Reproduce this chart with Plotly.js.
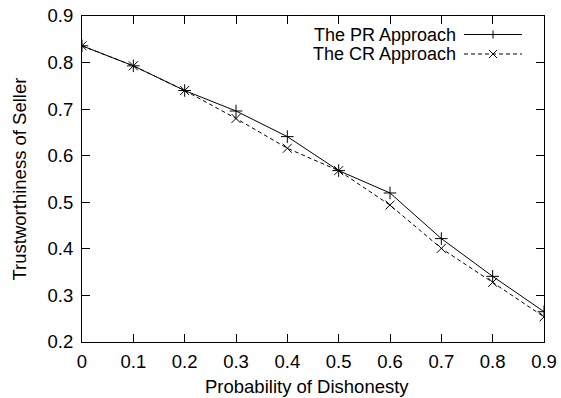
<!DOCTYPE html>
<html><head><meta charset="utf-8">
<script src="https://cdn.plot.ly/plotly-3.0.1.min.js"></script>
<style>html,body{margin:0;padding:0;background:#fff}#c{width:561px;height:398px}</style>
</head><body><div id="c"></div>
<script>
const xValues = [0, 0.1, 0.2, 0.3, 0.4, 0.5, 0.6, 0.7, 0.8, 0.9];
const prValues = [0.836, 0.793, 0.740, 0.696, 0.641, 0.568, 0.520, 0.422, 0.341, 0.265];
const crValues = [0.836, 0.793, 0.740, 0.680, 0.616, 0.568, 0.494, 0.401, 0.328, 0.254];
const seriesNames = ["The PR Approach", "The CR Approach"];
const xTicks = [0, 0.1, 0.2, 0.3, 0.4, 0.5, 0.6, 0.7, 0.8, 0.9];
const yTicks = [0.2, 0.3, 0.4, 0.5, 0.6, 0.7, 0.8, 0.9];
const xTitle = "Probability of Dishonesty";
const yTitle = "Trustworthiness of Seller";

const font = {family: "Liberation Sans, Arial, sans-serif", size: 18.5, color: "#000"};
const legendFont = {family: "Liberation Sans, Arial, sans-serif", size: 18, color: "#000"};
const traces = [
  {x: xValues, y: prValues, name: seriesNames[0], mode: "lines+markers",
   line: {color: "#000", width: 1}, marker: {symbol: "cross-thin", size: 9, line: {color: "#000", width: 1}}},
  {x: xValues, y: crValues, name: seriesNames[1], mode: "lines+markers",
   line: {color: "#000", width: 1, dash: "4px,3px"}, marker: {symbol: "x-thin", size: 9, line: {color: "#000", width: 1}}}
];

// custom gnuplot-style legend (text then sample)
const W = 462, H = 326;
const lx0 = (464-82)/W, lx1 = (522-82)/W, lxm = (493-82)/W, ltx = (457-82)/W;
const rows = [1-(34.5-16)/H, 1-(54-16)/H];
const ax = 4/W, ay = 4/H;
const shapes = [];
const annotations = [];
rows.forEach((ry, i) => {
  shapes.push({type: "line", xref: "paper", yref: "paper", x0: lx0, x1: lx1, y0: ry, y1: ry,
    line: {color: "#000", width: 1, dash: i === 1 ? "4px,3px" : "solid"}});
  if (i === 0) {
    shapes.push({type: "line", xref: "paper", yref: "paper", x0: lxm-ax, x1: lxm+ax, y0: ry, y1: ry, line: {color: "#000", width: 1}});
    shapes.push({type: "line", xref: "paper", yref: "paper", x0: lxm, x1: lxm, y0: ry-ay, y1: ry+ay, line: {color: "#000", width: 1}});
  } else {
    shapes.push({type: "line", xref: "paper", yref: "paper", x0: lxm-ax, x1: lxm+ax, y0: ry-ay, y1: ry+ay, line: {color: "#000", width: 1}});
    shapes.push({type: "line", xref: "paper", yref: "paper", x0: lxm-ax, x1: lxm+ax, y0: ry+ay, y1: ry-ay, line: {color: "#000", width: 1}});
  }
  annotations.push({xref: "paper", yref: "paper", x: ltx, y: ry, xanchor: "right", yanchor: "middle",
    text: seriesNames[i], showarrow: false, font: legendFont, borderpad: 0});
});
// axis titles placed like gnuplot
annotations.push({xref: "paper", yref: "paper", x: (307-82)/W, y: -(386-342)/H, xanchor: "center", yanchor: "middle",
  text: xTitle, showarrow: false, font: font});
annotations.push({xref: "paper", yref: "paper", x: (18.5-82)/W, y: 0.5, xanchor: "center", yanchor: "middle",
  text: yTitle, textangle: -90, showarrow: false, font: font});

const axisCommon = {showgrid: false, zeroline: false, showline: true, linecolor: "#000", linewidth: 1,
  mirror: "ticks", ticks: "inside", ticklen: 8, tickwidth: 1, tickcolor: "#000", tickfont: font};

const layout = {
  width: 561, height: 398,
  margin: {l: 82, r: 17, t: 16, b: 56},
  paper_bgcolor: "#fff", plot_bgcolor: "#fff",
  showlegend: false,
  font: font,
  xaxis: Object.assign({}, axisCommon, {range: [0, 0.9], tickvals: xTicks, ticktext: xTicks.map(String),
    ticklabelstandoff: 3}),
  yaxis: Object.assign({}, axisCommon, {range: [0.2, 0.9], tickvals: yTicks, ticktext: yTicks.map(String),
    ticklabelstandoff: 4}),
  shapes: shapes,
  annotations: annotations
};
Plotly.newPlot("c", traces, layout, {displayModeBar: false, staticPlot: true});
</script></body></html>
